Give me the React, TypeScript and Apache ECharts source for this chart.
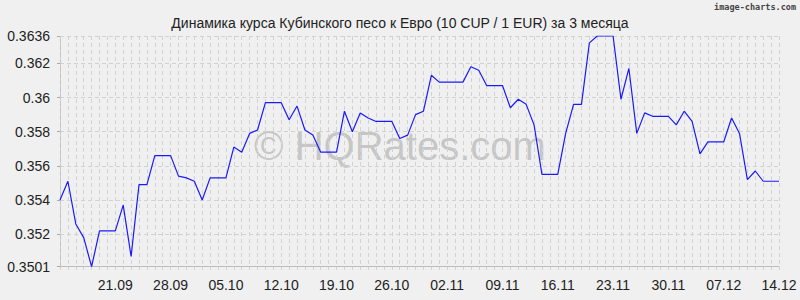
import React, { useEffect, useRef } from "react";
import * as echarts from "echarts";

const TITLE = "Динамика курса Кубинского песо к Евро (10 CUP / 1 EUR) за 3 месяца";

// daily rates, 14.09 … 14.12
const rates: number[] = [
  0.3540, 0.3551, 0.3526, 0.3518, 0.3501, 0.3522, 0.3522, 0.3522, 0.3537, 0.3507,
  0.3549, 0.3549, 0.3566, 0.3566, 0.3566, 0.3554, 0.3553, 0.3551, 0.3540, 0.3553,
  0.3553, 0.3553, 0.3571, 0.3568, 0.3579, 0.3581, 0.3597, 0.3597, 0.3597, 0.3587,
  0.3595, 0.3581, 0.3578, 0.3568, 0.3568, 0.3568, 0.3592, 0.3580, 0.3591, 0.3588,
  0.3586, 0.3586, 0.3586, 0.3576, 0.3578, 0.3590, 0.3592, 0.3613, 0.3609, 0.3609,
  0.3609, 0.3609, 0.3618, 0.3616, 0.3607, 0.3607, 0.3607, 0.3594, 0.3599, 0.3596,
  0.3584, 0.3555, 0.3555, 0.3555, 0.3579, 0.3596, 0.3596, 0.3632, 0.3636, 0.3636,
  0.3636, 0.3599, 0.3617, 0.3579, 0.3591, 0.3589, 0.3589, 0.3589, 0.3584, 0.3592,
  0.3586, 0.3567, 0.3574, 0.3574, 0.3574, 0.3588, 0.3579, 0.3552, 0.3557, 0.3551,
  0.3551, 0.3551,
];

const startDay = { month: 8, day: 14 }; // 14 September (month is 0-based)

const categories: string[] = rates.map((_, i) => {
  const d = new Date(Date.UTC(2001, startDay.month, startDay.day + i));
  const dd = String(d.getUTCDate()).padStart(2, "0");
  const mm = String(d.getUTCMonth() + 1).padStart(2, "0");
  return `${dd}.${mm}`;
});

const xTickLabels: string[] = [
  "21.09", "28.09", "05.10", "12.10", "19.10", "26.10", "02.11",
  "09.11", "16.11", "23.11", "30.11", "07.12", "14.12",
];

const yTickValues: number[] = [0.3501, 0.352, 0.354, 0.356, 0.358, 0.36, 0.362, 0.3636];
const yTickLabels: string[] = ["0.3501", "0.352", "0.354", "0.356", "0.358", "0.36", "0.362", "0.3636"];

const FONT = "'Liberation Sans', Arial, sans-serif";

export default function App() {
  const ref = useRef<HTMLDivElement>(null);

  useEffect(() => {
    if (!ref.current) return;
    const chart = echarts.init(ref.current, undefined, { renderer: "svg" });
    const labelSet = new Set(xTickLabels);
    chart.setOption({
      animation: false,
      backgroundColor: "#f0f0f0",
      title: {
        text: TITLE,
        left: "center",
        top: 11,
        textStyle: { fontFamily: FONT, fontSize: 14, fontWeight: "normal", color: "#222" },
      },
      grid: { left: 60, right: 21, top: 36, bottom: 33.3 },
      xAxis: {
        type: "category",
        data: categories,
        boundaryGap: false,
        axisLine: { show: true, lineStyle: { color: "#bcbcbc", width: 1 } },
        axisTick: {
          show: true,
          interval: 0,
          length: 6,
          lineStyle: { color: "#cfcfcf", type: [3, 3] },
        },
        axisLabel: {
          interval: (_i: number, v: string) => labelSet.has(v),
          margin: 11,
          fontFamily: FONT,
          fontSize: 14,
          color: "#222",
          showMinLabel: true,
          showMaxLabel: true,
        },
        splitLine: {
          show: true,
          interval: 0,
          lineStyle: { color: "#d2d2d2", type: [4, 3], width: 1 },
        },
      },
      yAxis: {
        type: "value",
        min: 0.3501,
        max: 0.3636,
        axisLine: { show: true, lineStyle: { color: "#c4c4c4", type: [4, 3] } },
        axisTick: {
          show: true,
          length: 3,
          customValues: yTickValues,
          lineStyle: { color: "#aaa" },
        },
        axisLabel: {
          customValues: yTickValues,
          margin: 10,
          fontFamily: FONT,
          fontSize: 14,
          color: "#222",
          formatter: (v: number) => {
            let best = 0;
            yTickValues.forEach((t, k) => {
              if (Math.abs(t - v) < Math.abs(yTickValues[best] - v)) best = k;
            });
            return yTickLabels[best];
          },
        },
        splitLine: {
          show: true,
          lineStyle: { color: "#d2d2d2", type: [4, 3], width: 1 },
        },
      },
      graphic: [
        {
          type: "text",
          left: "center",
          top: 126,
          z: 0,
          style: {
            text: "© HQRates.com",
            font: `40px ${FONT}`,
            fill: "rgba(128,128,128,0.38)",
          },
        },
        {
          type: "text",
          right: 4,
          top: 2,
          style: {
            text: "image-charts.com",
            font: `bold 8.5px 'DejaVu Sans Mono', monospace`,
            fill: "#444",
          },
        },
      ],
      series: [
        {
          type: "line",
          data: rates,
          symbol: "none",
          lineStyle: { color: "#1a1aff", width: 1.2 },
          z: 5,
        },
      ],
    });
    return () => chart.dispose();
  }, []);

  return (
    <div
      ref={ref}
      style={{ position: "fixed", left: 0, top: 0, width: 800, height: 300 }}
    />
  );
}
